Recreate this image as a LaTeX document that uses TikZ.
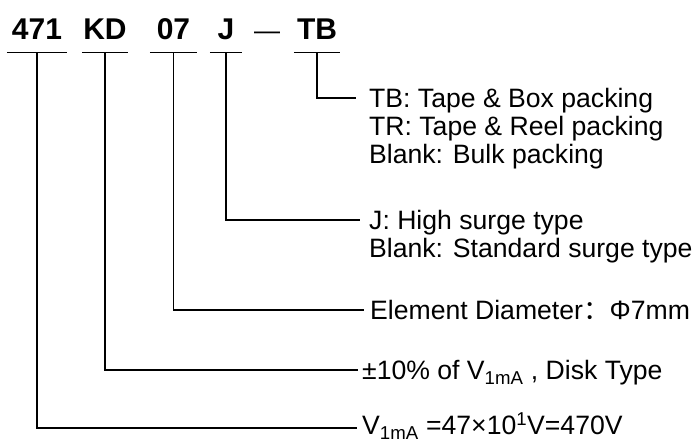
\documentclass[tikz,border=0pt]{standalone}
\usepackage{fontspec}
\setmainfont{Liberation Sans}
\newfontfamily\cjk{Noto Sans CJK SC}
\usetikzlibrary{positioning}

\tikzset{
    code/.style={font=\fontsize{30}{30}\selectfont\bfseries, text depth=0pt,
        inner xsep=0pt, inner ysep=12pt, anchor=base},
    desc/.style={font=\fontsize{26.6}{28}\selectfont, inner sep=0pt, anchor=base west},
    lead/.style={line width=1.1pt, line join=miter}
}

\begin{document}
\begin{tikzpicture}[x=1pt,y=-1pt]
    \useasboundingbox (0,0) rectangle (697,443);
    % part number
    \node[code, minimum width=60pt] (n471) at (37,40) {471};
    \node[code, minimum width=46pt] (nKD) at (105,40) {KD};
    \node[code, minimum width=47pt] (n07) at (173.5,40) {07};
    \node[code, minimum width=32pt] (nJ) at (226,40) {J};
    \node[font=\fontsize{26}{26}\selectfont, inner sep=0pt, anchor=base] (dash) at (267,40) {—};
    \node[code, minimum width=46pt] (nTB) at (317,40) {TB};
    \foreach \p in {n471,nKD,n07,nJ,nTB}
        \draw[lead] (\p.south west) -- (\p.south east);
    % descriptions
    \node[desc] (tb1) at (369,108) {TB: Tape \& Box packing};
    \node[desc] (tb2) at (369,136) {TR: Tape \& Reel packing};
    \node[desc] (tb3) at (369,164) {Blank: Bulk packing};
    \node[desc] (j1) at (369,230) {J: High surge type};
    \node[desc] (j2) at (369,258) {Blank: Standard surge type};
    \node[desc] (d07) at (370,320) {Element Diameter{\cjk ：}Φ7mm};
    \node[desc] (dKD) at (362,380) {±10\% of V\textsubscript{1mA} , Disk Type};
    \node[desc] (d471) at (362,435) {V\textsubscript{1mA} =47×10\textsuperscript{1}V=470V};
    % leader ends
    \coordinate (eTB) at (356,98);
    \coordinate (eJ) at (360,220);
    \coordinate (e07) at (364,310);
    \coordinate (eKD) at (358,370);
    \coordinate (e471) at (357,428);
    \draw[lead] (nTB.south) |- (eTB);
    \draw[lead] (nJ.south) |- (eJ);
    \draw[lead] (n07.south) |- (e07);
    \draw[lead] (nKD.south) |- (eKD);
    \draw[lead] (n471.south) |- (e471);
\end{tikzpicture}
\end{document}
